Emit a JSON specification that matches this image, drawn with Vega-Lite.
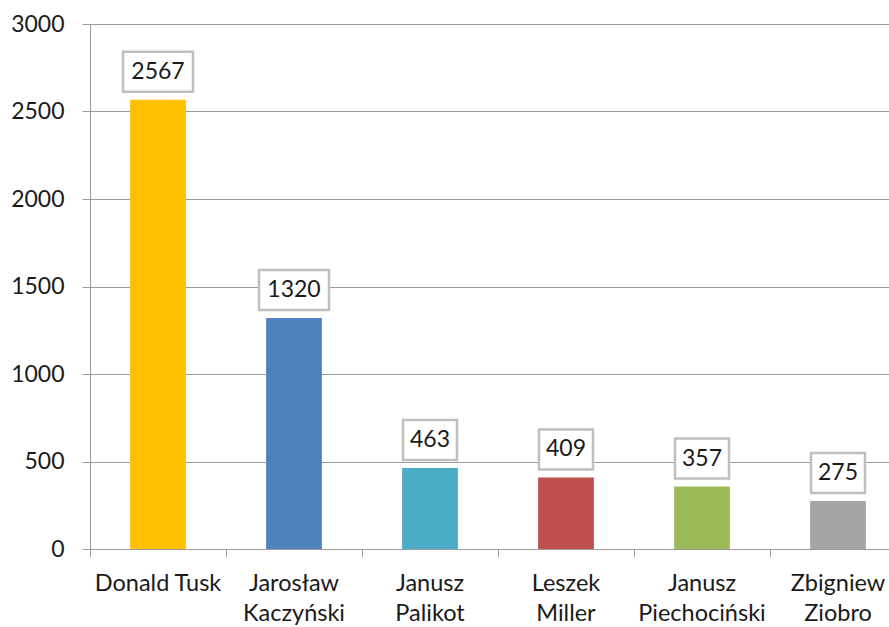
{
  "$schema": "https://vega.github.io/schema/vega-lite/v6.json",
  "width": 816,
  "height": 525,
  "autosize": {"type": "none"},
  "padding": {"left": 90, "top": 24, "right": 0, "bottom": 78},
  "background": "white",
  "config": {"view": {"stroke": null}, "font": "Lato"},
  "data": {
    "values": [
      {"name": "Donald Tusk", "votes": 2567},
      {"name": "Jarosław\nKaczyński", "votes": 1320},
      {"name": "Janusz\nPalikot", "votes": 463},
      {"name": "Leszek\nMiller", "votes": 409},
      {"name": "Janusz\nPiechociński", "votes": 357},
      {"name": "Zbigniew\nZiobro", "votes": 275}
    ]
  },
  "encoding": {
    "x": {
      "field": "name",
      "type": "nominal",
      "sort": null,
      "scale": {"paddingInner": 0, "paddingOuter": 0},
      "axis": {
        "title": null,
        "labelAngle": 0,
        "bandPosition": 0,
        "tickSize": 8,
        "tickColor": "#9c9c9c",
        "domainColor": "#9c9c9c",
        "labelFontSize": 23.5,
        "labelColor": "#1a1a1a",
        "labelFont": "Lato",
        "labelPadding": 14,
        "labelLineHeight": 30,
        "labelBaseline": "top",
        "labelExpr": "split(datum.value, '\\n')"
      }
    }
  },
  "layer": [
    {
      "mark": {"type": "bar", "width": {"band": 0.41}},
      "encoding": {
        "y": {
          "field": "votes",
          "type": "quantitative",
          "scale": {"domain": [0, 3000], "nice": false},
          "axis": {
            "title": null,
            "values": [0, 500, 1000, 1500, 2000, 2500, 3000],
            "format": "d",
            "grid": true,
            "gridColor": "#9c9c9c",
            "tickSize": 8,
            "tickColor": "#9c9c9c",
            "domainColor": "#9c9c9c",
            "labelFontSize": 23,
            "labelColor": "#1a1a1a",
            "labelPadding": 18
          }
        },
        "color": {
          "field": "name",
          "type": "nominal",
          "sort": null,
          "legend": null,
          "scale": {"range": ["#FFC000", "#4F81BD", "#4BACC6", "#C0504D", "#9BBB59", "#A5A5A5"]}
        }
      }
    },
    {
      "transform": [{"filter": "datum.votes >= 1000"}],
      "mark": {"type": "bar", "width": 70, "fill": "white", "stroke": "#bfbfbf", "strokeWidth": 2.5, "yOffset": -48, "y2Offset": -8},
      "encoding": {
        "y": {"field": "votes", "type": "quantitative"},
        "y2": {"field": "votes"}
      }
    },
    {
      "transform": [{"filter": "datum.votes < 1000"}],
      "mark": {"type": "bar", "width": 54, "fill": "white", "stroke": "#bfbfbf", "strokeWidth": 2.5, "yOffset": -48, "y2Offset": -8},
      "encoding": {
        "y": {"field": "votes", "type": "quantitative"},
        "y2": {"field": "votes"}
      }
    },
    {
      "mark": {"type": "text", "fontSize": 23, "color": "#1a1a1a", "baseline": "middle", "dy": -28, "font": "Lato"},
      "encoding": {
        "y": {"field": "votes", "type": "quantitative"},
        "text": {"field": "votes", "type": "quantitative"}
      }
    }
  ]
}
